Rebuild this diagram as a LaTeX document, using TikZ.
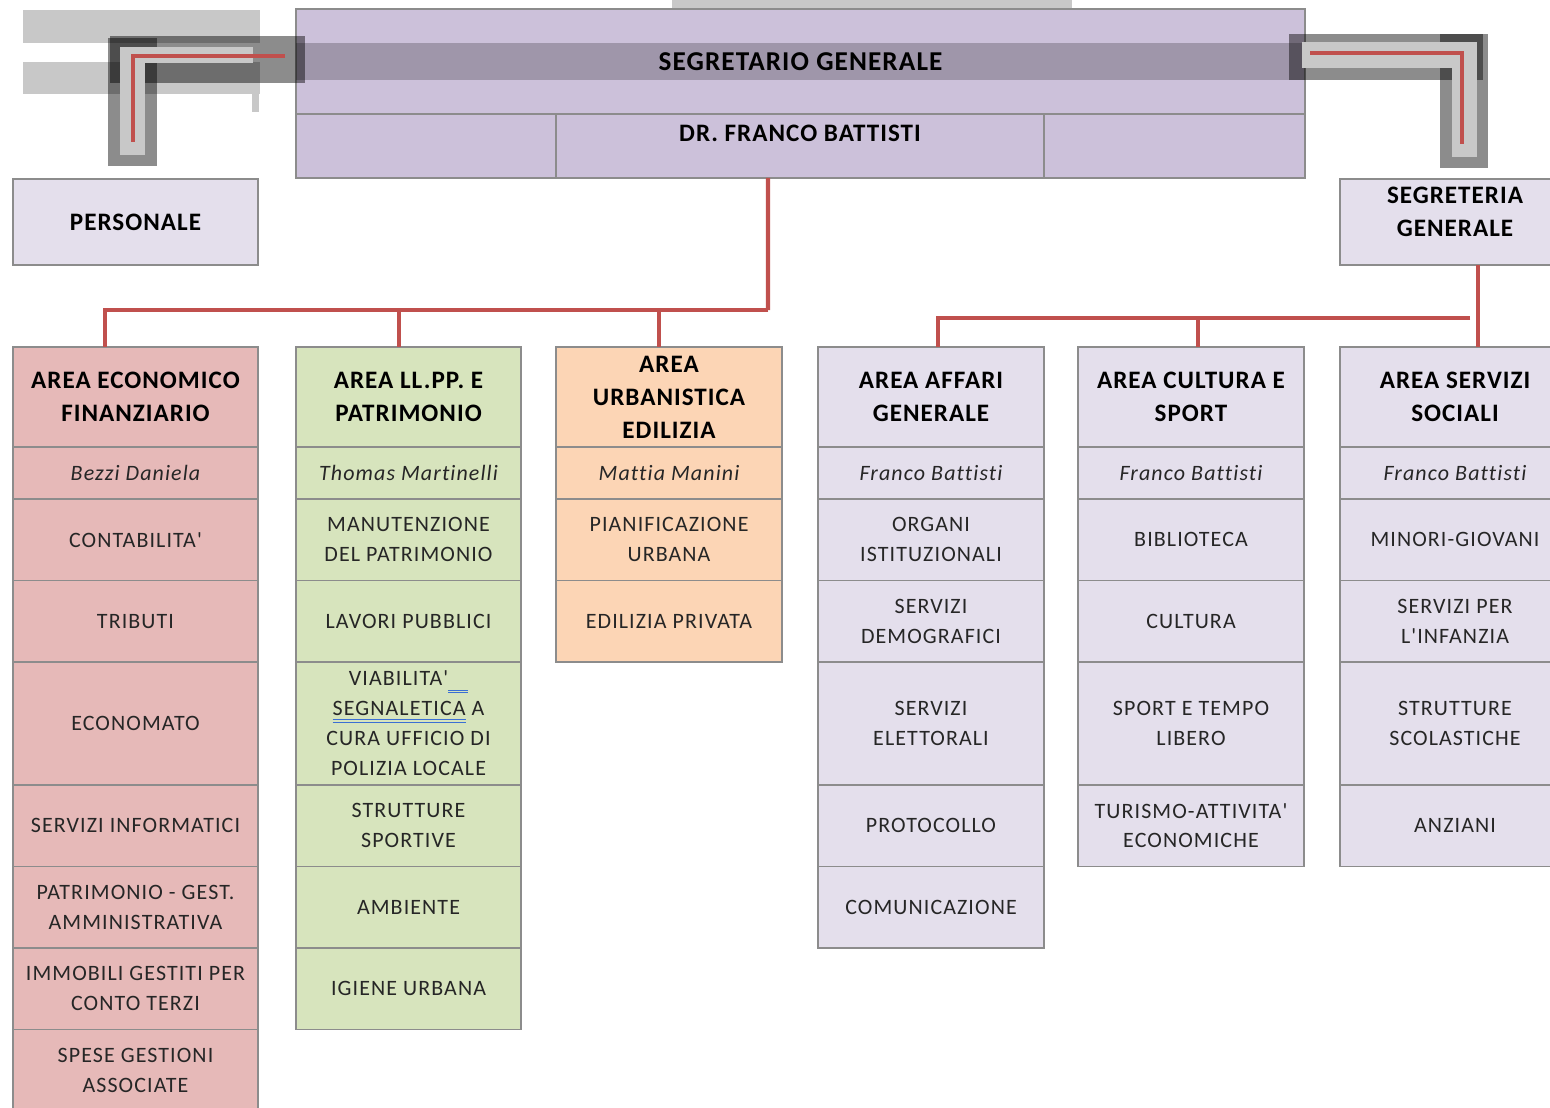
\documentclass[tikz,border=0pt]{standalone}
\usepackage{fontspec}
\setmainfont{Carlito}
\newfontfamily\carlito[LetterSpace=5, Ligatures=NoCommon]{Carlito}
\newfontfamily\carlitot[LetterSpace=4, Ligatures=NoCommon]{Carlito}
\usetikzlibrary{positioning, calc}

\definecolor{rosa}{HTML}{E6B9B8}
\definecolor{verde}{HTML}{D7E4BD}
\definecolor{pesca}{HTML}{FCD5B5}
\definecolor{lilla}{HTML}{E4DFEC}
\definecolor{viola}{HTML}{CCC1DA}
\definecolor{bordo}{HTML}{8C8C8C}
\definecolor{rosso}{HTML}{C0504D}
\definecolor{grigiochiaro}{HTML}{C8C8C8}
\definecolor{testo}{HTML}{262626}
\definecolor{spell}{HTML}{3B6FD4}

\newcommand\fonttesta{\carlitot\fontsize{14.3}{18.7}\selectfont\bfseries}
\newcommand\fontsegr{\carlitot\fontsize{15.5}{19}\selectfont\bfseries}
\newcommand\fontnome{\carlito\fontsize{12.5}{17}\selectfont\itshape}
\newcommand\fontvoce{\carlito\fontsize{12.5}{17}\selectfont}

\newsavebox\parola
\newcommand\sottolinea[1]{\sbox\parola{#1}\usebox\parola\llap{\textcolor{spell}{\rlap{\rule[-0.2em]{\wd\parola}{0.45pt}}\rule[-0.33em]{\wd\parola}{0.45pt}}}}

\tikzstyle{cella} = [rectangle, draw=bordo, line width=0.8pt, outer sep=0pt,
inner sep=1pt, align=center, text=testo]
\tikzstyle{testa} = [cella, minimum height=2cm, font=\fonttesta, text=black]
\tikzstyle{nome} = [cella, minimum height=1.04cm, font=\fontnome]
\tikzstyle{voce} = [cella, minimum height=1.63cm, font=\fontvoce]
\tikzstyle{voceal} = [voce, minimum height=2.46cm]
\tikzstyle{top} = [cella, fill=viola, font=\fontsegr, text=black]
\tikzstyle{econ} = [fill=rosa, minimum width=4.9cm]
\tikzstyle{llpp} = [fill=verde, minimum width=4.5cm]
\tikzstyle{urb} = [fill=pesca, minimum width=4.52cm]
\tikzstyle{aff} = [fill=lilla, minimum width=4.52cm]
\tikzstyle{soc} = [fill=lilla, minimum width=4.6cm]
\tikzstyle{linea} = [rosso, line width=2.4pt]
\tikzstyle{ombra} = [black, opacity=.45]

\begin{document}
\begin{tikzpicture}[x=0.02cm, y=-0.02cm]
\useasboundingbox (0,0) rectangle (1550,1107);

% rettangoli grigi di selezione
\fill[grigiochiaro] (23,10) rectangle (260,43);
\fill[grigiochiaro] (23,62) rectangle (260,94);
\fill[grigiochiaro] (252,94) rectangle (259,112);
\fill[grigiochiaro] (672,0) rectangle (1072,9);

% segretario generale
\node(sg)[top, minimum width=20.18cm, minimum height=2.1cm] at (800.5,61.5)
{SEGRETARIO GENERALE};
\node(sgsx)[top, minimum width=5.2cm, minimum height=1.28cm,
below right=0pt of sg.south west]{};
\node(dr)[top, minimum width=9.76cm, minimum height=1.28cm, right=0pt of sgsx]{};
\node(sgdx)[top, minimum width=5.22cm, minimum height=1.28cm, right=0pt of dr]{};
\node(drtesto)[font=\fonttesta] at ($(dr.north)+(0,19)$) {DR. FRANCO BATTISTI};
\fill[black, opacity=.22] (296,43) rectangle (1305,80);

% connettori a gomito
\fill[ombra] (110,36) rectangle (305,83);
\fill[ombra] (108,38) rectangle (157,166);
\fill[grigiochiaro] (123,47) rectangle (253,63);
\fill[grigiochiaro] (120,47) rectangle (145,155);
\draw[rosso, line width=1.8pt] (285,56) -| (133,142);
\fill[ombra] (1289,34) rectangle (1483,80);
\fill[ombra] (1440,34) rectangle (1488,168);
\fill[grigiochiaro] (1302,42) rectangle (1477,68);
\fill[grigiochiaro] (1452,42) rectangle (1477,157);
\draw[rosso, line width=1.8pt] (1310,53) -| (1462,144);

\node(pers)[cella, fill=lilla, font=\fonttesta, text=black, minimum width=4.9cm,
minimum height=1.72cm] at (135.5,222) {PERSONALE};
\node(segr)[cella, fill=lilla, font=\fonttesta, text=black, minimum width=4.6cm,
minimum height=1.72cm] at (1455,222)
{\raisebox{5pt}[\height][\depth]{\begin{tabular}{@{}c@{}}SEGRETERIA\\GENERALE\end{tabular}}};

% area economico finanziario
\node(e0)[testa, econ] at (135.5,397) {AREA ECONOMICO\\FINANZIARIO};
\node(e1)[nome, econ, below=0pt of e0]{Bezzi Daniela};
\node(e2)[voce, econ, below=0pt of e1]{CONTABILITA'};
\node(e3)[voce, econ, below=0pt of e2]{TRIBUTI};
\node(e4)[voceal, econ, below=0pt of e3]{ECONOMATO};
\node(e5)[voce, econ, below=0pt of e4]{SERVIZI INFORMATICI};
\node(e6)[voce, econ, below=0pt of e5]{PATRIMONIO - GEST.\\AMMINISTRATIVA};
\node(e7)[voce, econ, below=0pt of e6]{IMMOBILI GESTITI PER\\CONTO TERZI};
\node(e8)[voce, econ, below=0pt of e7]{SPESE GESTIONI\\ASSOCIATE};

% area ll.pp. e patrimonio
\node(l0)[testa, llpp] at (408.5,397) {AREA LL.PP. E\\PATRIMONIO};
\node(l1)[nome, llpp, below=0pt of l0]{Thomas Martinelli};
\node(l2)[voce, llpp, below=0pt of l1]{MANUTENZIONE\\DEL PATRIMONIO};
\node(l3)[voce, llpp, below=0pt of l2]{LAVORI PUBBLICI};
\node(l4)[voceal, llpp, below=0pt of l3]{VIABILITA'\sottolinea{\hspace{0.9em}}\\
\sottolinea{SEGNALETICA} A\\CURA UFFICIO DI\\POLIZIA LOCALE};
\node(l5)[voce, llpp, below=0pt of l4]{STRUTTURE\\SPORTIVE};
\node(l6)[voce, llpp, below=0pt of l5]{AMBIENTE};
\node(l7)[voce, llpp, below=0pt of l6]{IGIENE URBANA};

% area urbanistica edilizia
\node(u0)[testa, urb] at (669,397) {AREA\\URBANISTICA\\EDILIZIA};
\node(u1)[nome, urb, below=0pt of u0]{Mattia Manini};
\node(u2)[voce, urb, below=0pt of u1]{PIANIFICAZIONE\\URBANA};
\node(u3)[voce, urb, below=0pt of u2]{EDILIZIA PRIVATA};

% area affari generale
\node(a0)[testa, aff] at (931,397) {AREA AFFARI\\GENERALE};
\node(a1)[nome, aff, below=0pt of a0]{Franco Battisti};
\node(a2)[voce, aff, below=0pt of a1]{ORGANI\\ISTITUZIONALI};
\node(a3)[voce, aff, below=0pt of a2]{SERVIZI\\DEMOGRAFICI};
\node(a4)[voceal, aff, below=0pt of a3]{SERVIZI\\ELETTORALI};
\node(a5)[voce, aff, below=0pt of a4]{PROTOCOLLO};
\node(a6)[voce, aff, below=0pt of a5]{COMUNICAZIONE};

% area cultura e sport
\node(c0)[testa, aff] at (1191,397) {AREA CULTURA E\\SPORT};
\node(c1)[nome, aff, below=0pt of c0]{Franco Battisti};
\node(c2)[voce, aff, below=0pt of c1]{BIBLIOTECA};
\node(c3)[voce, aff, below=0pt of c2]{CULTURA};
\node(c4)[voceal, aff, below=0pt of c3]{SPORT E TEMPO\\LIBERO};
\node(c5)[voce, aff, below=0pt of c4]{TURISMO-ATTIVITA'\\ECONOMICHE};

% area servizi sociali
\node(s0)[testa, soc] at (1455,397) {AREA SERVIZI\\SOCIALI};
\node(s1)[nome, soc, below=0pt of s0]{Franco Battisti};
\node(s2)[voce, soc, below=0pt of s1]{MINORI-GIOVANI};
\node(s3)[voce, soc, below=0pt of s2]{SERVIZI PER\\L'INFANZIA};
\node(s4)[voceal, soc, below=0pt of s3]{STRUTTURE\\SCOLASTICHE};
\node(s5)[voce, soc, below=0pt of s4]{ANZIANI};

% collegamenti
\coordinate(nodoL) at (768,310);
\coordinate(nodoR) at (1470,318);
\draw[linea]($(dr.south)+(-32,0)$) -- (nodoL);
\draw[linea](nodoL) -| ($(e0.north)+(-30.5,0)$);
\draw[linea](nodoL) -| ($(l0.north)+(-9.5,0)$);
\draw[linea](nodoL) -| ($(u0.north)+(-10,0)$);
\draw[linea]($(segr.south)+(23,0)$) -- ($(s0.north)+(23,0)$);
\draw[linea](nodoR) -| ($(a0.north)+(7,0)$);
\draw[linea](nodoR) -| ($(c0.north)+(7,0)$);

\end{tikzpicture}
\end{document}
